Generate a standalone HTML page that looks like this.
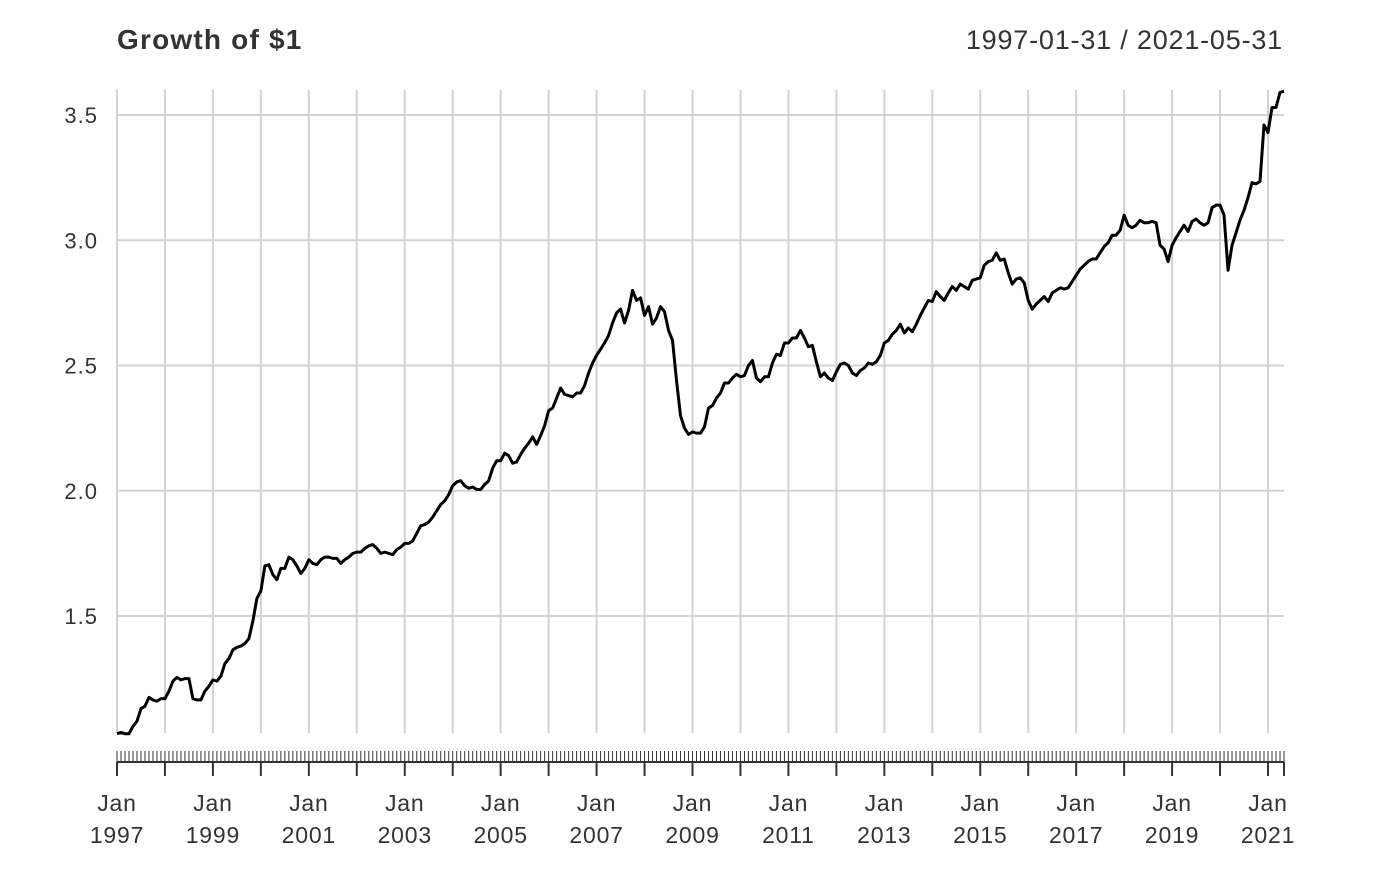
<!DOCTYPE html>
<html><head><meta charset="utf-8"><style>
html,body{margin:0;padding:0;background:#fff;}
svg text{font-family:"Liberation Sans",sans-serif;fill:#333;}
</style></head><body>
<svg id="chart" width="1400" height="866" viewBox="0 0 1400 866" xmlns="http://www.w3.org/2000/svg">
<text x="117" y="49" font-size="28" font-weight="bold" letter-spacing="1.2">Growth of $1</text>
<text x="1283" y="49" font-size="27" text-anchor="end" letter-spacing="0.8">1997-01-31 / 2021-05-31</text>
<g id="grid"></g><g id="axis"></g><g id="series"></g>
</svg>
<script>
const startYear = 1997;
const yTicks = [1.5, 2.0, 2.5, 3.0, 3.5];
const yTickLabels = ["1.5", "2.0", "2.5", "3.0", "3.5"];
const growth = [
1.03,1.035,1.03,1.03,1.06,1.08,1.13,1.14,1.175,1.165,1.16,1.17,
1.17,1.2,1.24,1.255,1.245,1.25,1.25,1.17,1.165,1.165,1.2,1.22,
1.245,1.24,1.26,1.31,1.33,1.365,1.375,1.38,1.39,1.41,1.48,1.57,
1.6,1.7,1.705,1.665,1.645,1.69,1.69,1.735,1.725,1.7,1.67,1.69,
1.725,1.71,1.705,1.725,1.735,1.735,1.73,1.73,1.71,1.725,1.735,1.75,
1.755,1.755,1.77,1.78,1.785,1.77,1.75,1.755,1.75,1.745,1.765,1.775,
1.79,1.79,1.8,1.83,1.86,1.865,1.875,1.895,1.92,1.945,1.96,1.985,
2.02,2.035,2.04,2.02,2.01,2.015,2.005,2.005,2.025,2.04,2.09,2.12,
2.12,2.15,2.14,2.11,2.115,2.145,2.17,2.19,2.215,2.185,2.22,2.26,
2.32,2.33,2.37,2.41,2.385,2.38,2.375,2.39,2.39,2.42,2.47,2.51,
2.54,2.565,2.59,2.62,2.67,2.71,2.725,2.67,2.72,2.8,2.76,2.77,
2.70,2.735,2.665,2.69,2.735,2.715,2.64,2.60,2.44,2.30,2.25,2.225,
2.235,2.23,2.23,2.255,2.33,2.34,2.37,2.39,2.43,2.43,2.45,2.465,
2.455,2.46,2.50,2.52,2.45,2.435,2.455,2.455,2.51,2.545,2.54,2.59,
2.59,2.61,2.61,2.64,2.61,2.575,2.58,2.515,2.455,2.47,2.45,2.44,
2.475,2.505,2.51,2.50,2.47,2.46,2.48,2.49,2.51,2.505,2.515,2.54,
2.59,2.60,2.625,2.64,2.665,2.63,2.65,2.635,2.665,2.70,2.73,2.76,
2.755,2.795,2.775,2.76,2.79,2.815,2.80,2.825,2.815,2.805,2.84,2.845,
2.85,2.90,2.915,2.92,2.95,2.92,2.925,2.87,2.825,2.845,2.85,2.83,
2.76,2.725,2.745,2.76,2.775,2.755,2.79,2.80,2.81,2.805,2.81,2.835,
2.86,2.885,2.90,2.915,2.925,2.925,2.95,2.975,2.99,3.02,3.02,3.04,
3.10,3.06,3.05,3.06,3.08,3.07,3.07,3.075,3.07,2.98,2.965,2.915,
2.98,3.01,3.035,3.06,3.035,3.075,3.085,3.07,3.06,3.07,3.13,3.14,
3.14,3.10,2.88,2.98,3.03,3.08,3.12,3.17,3.23,3.225,3.235,3.46,
3.43,3.53,3.53,3.59,3.595
];
const NS="http://www.w3.org/2000/svg";
const X0=117, PX_PER_MONTH=(1268-117)/288;
const xScale=i=>X0+i*PX_PER_MONTH;
const yScale=v=>616-(v-1.5)*250.5;
const nMonths=growth.length;
const xEnd=xScale(nMonths-1);
function mk(tag,attrs,parent){const e=document.createElementNS(NS,tag);for(const k in attrs)e.setAttribute(k,attrs[k]);parent.appendChild(e);return e;}
const grid=document.getElementById('grid'), axis=document.getElementById('axis'), series=document.getElementById('series');
yTicks.forEach((v,i)=>{
  const l=mk('line',{x1:X0,x2:xEnd,y1:yScale(v),y2:yScale(v),stroke:'#d3d3d3','stroke-width':2},grid);
  
  
  const t=mk('text',{x:98,y:yScale(v)+8,'font-size':22,'text-anchor':'end','letter-spacing':1},grid);
  t.textContent=yTickLabels[i];
  
  
});
for(let m=0;m<nMonths;m+=12){
  const x=xScale(m);
  const l=mk('line',{x1:x,x2:x,y1:90,y2:733,stroke:'#d3d3d3','stroke-width':2},grid);
  
  
}
const base=mk('line',{x1:X0,x2:xEnd,y1:762,y2:762,stroke:'#333','stroke-width':2},axis);


for(let m=0;m<nMonths;m++){
  const x=xScale(m);
  const t=mk('line',{x1:x,x2:x,y1:751,y2:762,stroke:'#333','stroke-width':1},axis);
  
  
  if(m%12===0){
    const M=mk('line',{x1:x,x2:x,y1:762,y2:776,stroke:'#333','stroke-width':2},axis);
    
    
    const yr=startYear+m/12;
    if((yr-startYear)%2===0){
      const a=mk('text',{x:x,y:811,'font-size':23,'text-anchor':'middle','letter-spacing':0.8},axis);a.textContent='Jan';
      
      
      const b=mk('text',{x:x,y:843,'font-size':23,'text-anchor':'middle','letter-spacing':0.8},axis);b.textContent=String(yr);
      
      
    }
  }
}
const endTick=mk('line',{x1:xEnd,x2:xEnd,y1:762,y2:776,stroke:'#333','stroke-width':2},axis);


const d=growth.map((v,i)=>(i?'L':'M')+xScale(i).toFixed(2)+' '+yScale(v).toFixed(2)).join(' ');
const p=mk('path',{d:d,fill:'none',stroke:'#000','stroke-width':3,'stroke-linejoin':'round'},series);


</script>
</body></html>
